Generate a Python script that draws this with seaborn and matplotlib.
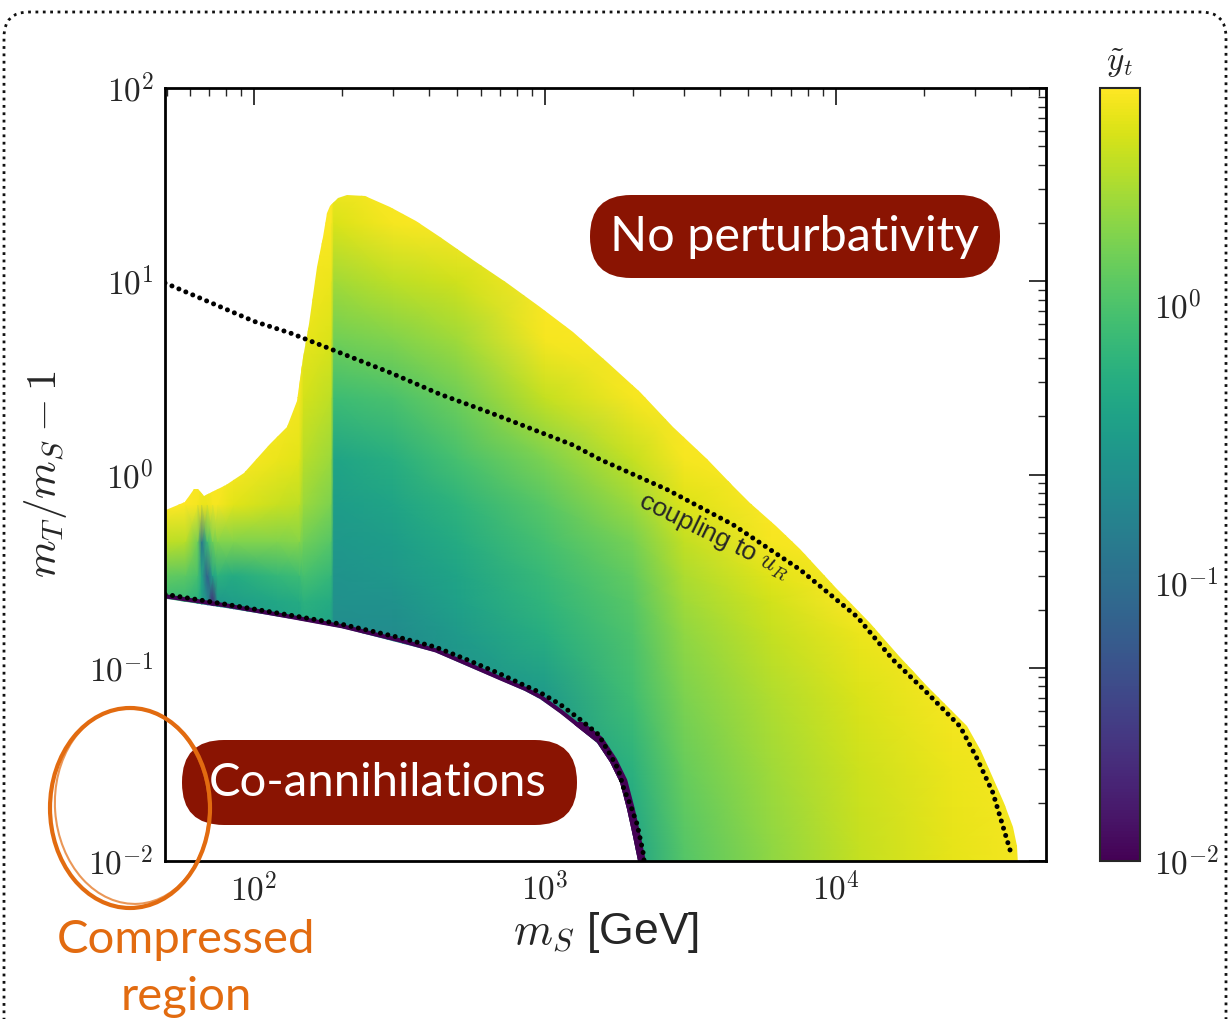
import numpy as np
import matplotlib
matplotlib.use("Agg")
import matplotlib.pyplot as plt
import seaborn as sns
from matplotlib.colors import LogNorm
from matplotlib.patches import Polygon, FancyBboxPatch, Ellipse
from matplotlib.ticker import FuncFormatter, NullFormatter
from matplotlib.transforms import IdentityTransform

# ---- values ----
# coarse grid of y_t values (one list per m_S column, rows follow ratio_grid)
ms_grid = [40, 58, 64, 66, 69, 72, 75, 85, 120, 143, 148, 184, 188, 300, 500,
           1000, 2000, 3000, 6000, 12000, 25000, 60000]
ratio_grid = [0.005, 0.012, 0.03, 0.07, 0.15, 0.22, 0.3, 0.45, 0.7, 1.2,
              2.5, 5, 10, 20, 40]
yt_columns = [
    [0.8, 0.8, 0.8, 0.8, 0.8, 0.8, 1.4, 3.5, 6, 6, 6, 6, 6, 6, 6],
    [0.7, 0.7, 0.7, 0.7, 0.7, 0.7, 1.2, 3.0, 6, 6, 6, 6, 6, 6, 6],
    [0.55, 0.55, 0.55, 0.55, 0.55, 0.55, 0.9, 1.5, 5.5, 6, 6, 6, 6, 6, 6],
    [0.4, 0.4, 0.4, 0.4, 0.4, 0.4, 0.45, 0.12, 5, 6, 6, 6, 6, 6, 6],
    [0.25, 0.25, 0.25, 0.25, 0.25, 0.25, 0.07, 0.8, 5, 6, 6, 6, 6, 6, 6],
    [0.02, 0.02, 0.02, 0.02, 0.02, 0.02, 0.4, 1.5, 5.5, 6, 6, 6, 6, 6, 6],
    [0.3, 0.3, 0.3, 0.3, 0.3, 0.3, 0.6, 1.8, 5.5, 6, 6, 6, 6, 6, 6],
    [0.3, 0.3, 0.3, 0.3, 0.3, 0.35, 0.5, 1.8, 4.5, 6, 6, 6, 6, 6, 6],
    [0.35, 0.35, 0.35, 0.35, 0.35, 0.45, 0.7, 1.8, 3.5, 5, 6, 6, 6, 6, 6],
    [0.4, 0.4, 0.4, 0.4, 0.4, 0.5, 0.8, 1.9, 3.2, 4.5, 5.5, 6, 6, 6, 6],
    [0.45, 0.45, 0.45, 0.45, 0.45, 0.6, 0.9, 1.5, 2.3, 3.0, 4.0, 4.8, 5.5, 6, 6],
    [0.4, 0.4, 0.4, 0.4, 0.4, 0.5, 0.7, 1.1, 1.7, 2.3, 3.2, 4.2, 5.0, 5.8, 6],
    [0.22, 0.22, 0.22, 0.22, 0.22, 0.25, 0.27, 0.3, 0.34, 0.42, 0.8, 1.5, 2.5, 4.2, 6],
    [0.2, 0.2, 0.2, 0.2, 0.22, 0.26, 0.3, 0.34, 0.42, 0.55, 0.95, 1.8, 3.2, 5.5, 6],
    [0.25, 0.25, 0.25, 0.25, 0.32, 0.38, 0.42, 0.5, 0.62, 0.9, 1.45, 2.4, 3.8, 6, 6],
    [0.3, 0.3, 0.3, 0.32, 0.55, 0.65, 0.75, 0.9, 1.15, 1.7, 3.4, 5.5, 6, 6, 6],
    [0.35, 0.42, 0.6, 0.85, 1.0, 1.15, 1.3, 1.6, 2.3, 3.4, 5.5, 6, 6, 6, 6],
    [1.0, 1.1, 1.35, 1.7, 2.1, 2.4, 2.7, 3.3, 4.3, 5.5, 6, 6, 6, 6, 6],
    [2.0, 2.1, 2.4, 2.8, 3.4, 3.9, 4.5, 5.5, 6, 6, 6, 6, 6, 6, 6],
    [3.3, 3.4, 3.7, 4.2, 5.0, 6, 6, 6, 6, 6, 6, 6, 6, 6, 6],
    [4.6, 4.7, 5.0, 5.6, 6, 6, 6, 6, 6, 6, 6, 6, 6, 6, 6],
    [6, 6, 6, 6, 6, 6, 6, 6, 6, 6, 6, 6, 6, 6, 6],
]

# edges of the allowed region
lower_edge_m = [35, 50, 80, 136, 200, 318, 420, 540, 700, 850, 961, 1127,
                1320, 1509, 1673, 1810, 1914, 2006, 2088, 2110]
lower_edge_r = [0.245, 0.228, 0.205, 0.178, 0.160, 0.135, 0.120, 0.102,
                0.086, 0.076, 0.069, 0.058, 0.048, 0.041, 0.0324, 0.0255,
                0.0185, 0.0134, 0.0100, 0.005]
upper_edge_m = [35, 48, 58, 62, 64, 67, 80, 92, 113, 130, 140, 147, 155, 165,
                172, 178, 183, 187, 195, 209, 240, 293, 360, 436, 566, 740, 961,
                1248, 1633, 2117, 2753, 3605, 4425, 5060, 6200, 7520, 10000,
                13100, 16500, 20500, 24500, 28200, 31500, 34700, 37800, 40500,
                41800, 42300, 42300]
upper_edge_r = [0.57, 0.64, 0.72, 0.84, 0.84, 0.77, 0.88, 1.02, 1.43, 1.77, 2.4,
                4.0, 6.0, 11.9, 17.0, 22.6, 24.5, 25.5, 27.0, 28.0, 27.5, 24.3,
                20.5, 17.0, 12.9, 9.84, 7.40, 5.43, 3.80, 2.66, 1.77, 1.20,
                0.867, 0.71, 0.54, 0.41, 0.26, 0.171, 0.115, 0.080, 0.062,
                0.050, 0.037, 0.027, 0.020, 0.015, 0.012, 0.0095, 0.005]

# dotted contours
coupling_m = [49.4, 100, 133, 293, 436, 647, 1248, 1546, 2625, 4425, 7520,
              11800, 15700, 20500, 26700, 30500, 34600, 40300]
coupling_r = [9.8, 6.2, 5.4, 3.37, 2.6, 2.09, 1.42, 1.196, 0.836, 0.55, 0.322,
              0.184, 0.110, 0.0745, 0.0497, 0.034, 0.0226, 0.0105]
coann_m = [49.4, 80, 136, 200, 318, 420, 540, 700, 850, 961, 1127, 1320, 1525,
           1673, 1785, 1860, 1962, 2072, 2170, 2190]
coann_r = [0.24, 0.213, 0.186, 0.168, 0.143, 0.128, 0.110, 0.093, 0.081,
           0.0745, 0.0646, 0.054, 0.0452, 0.0356, 0.0298, 0.024, 0.0196,
           0.0155, 0.0112, 0.0100]

# ---- style ----
sns.set_style("white")
plt.rcParams["font.family"] = ["Liberation Sans", "DejaVu Sans"]
plt.rcParams["mathtext.fontset"] = "cm"

W, H = 1230, 1019
fig = plt.figure(figsize=(W / 100, H / 100), dpi=100)
ax = fig.add_axes([165 / W, 1 - 861 / H, 881 / W, 773 / H])
cax = fig.add_axes([1100 / W, 1 - 861 / H, 40 / W, 773 / H])

ax.set_xscale("log")
ax.set_yscale("log")

cmap = sns.color_palette("viridis", as_cmap=True)
norm = LogNorm(vmin=0.01, vmax=6)

X, Y = np.meshgrid(ms_grid, ratio_grid)
C = np.array(yt_columns).T
mesh = ax.pcolormesh(X, Y, C, shading="gouraud", cmap=cmap, norm=norm)

region = Polygon(
    np.column_stack([lower_edge_m + upper_edge_m[::-1],
                     lower_edge_r + upper_edge_r[::-1]]),
    closed=True, transform=ax.transData)
mesh.set_clip_path(region)

# thin purple rim along the co-annihilation edge, wider where it turns down
purple = cmap(0.0)
rim, = ax.plot(lower_edge_m, lower_edge_r, color=purple, lw=6)
rim.set_clip_path(region)
rim2, = ax.plot(lower_edge_m[12:], lower_edge_r[12:], color=purple, lw=11)
rim2.set_clip_path(region)

dot_style = dict(color="black", linewidth=3.6, linestyle=(0, (0.01, 1.5)),
                 dash_capstyle="round", sort=False, estimator=None, zorder=5)
sns.lineplot(x=coupling_m, y=coupling_r, ax=ax, **dot_style)
sns.lineplot(x=coann_m, y=coann_r, ax=ax, **dot_style)

ax.set_xlim(49.4, 52700)
ax.set_ylim(0.01, 100)

pow_fmt = FuncFormatter(lambda v, p: r"$10^{%d}$" % round(np.log10(v)))
ax.xaxis.set_major_formatter(pow_fmt)
ax.yaxis.set_major_formatter(pow_fmt)
ax.xaxis.set_minor_formatter(NullFormatter())
ax.yaxis.set_minor_formatter(NullFormatter())
ax.tick_params(which="major", direction="in", length=12, width=1.3,
               top=True, right=True, labelsize=24, pad=8)
ax.tick_params(which="minor", direction="in", length=6, width=1.0,
               top=True, right=True)
for s in ax.spines.values():
    s.set_linewidth(2)
    s.set_color("black")

ax.set_xlabel(r"$m_S$ [GeV]", fontsize=32, labelpad=2)
ax.set_ylabel(r"$m_T/m_S - 1$", fontsize=31, labelpad=14)

ax.text(0.624, 0.42, r"coupling to $u_R$", transform=ax.transAxes,
        rotation=-26, rotation_mode="anchor", ha="center", va="center",
        fontsize=19)

cb = fig.colorbar(mesh, cax=cax)
cb.outline.set_linewidth(1.5)
cax.yaxis.set_major_formatter(pow_fmt)
cax.yaxis.set_minor_formatter(NullFormatter())
cax.tick_params(which="both", direction="in", length=8, width=1.2,
                labelsize=24, pad=10)
cax.set_title(r"$\tilde{y}_t$", fontsize=24, pad=12)

# ---- annotations ----
pix = IdentityTransform()
red = "#8A1402"
orange = "#E26B10"

fig.add_artist(FancyBboxPatch((590, H - 278), 410, 83,
                              boxstyle="round,pad=0,rounding_size=41",
                              transform=pix, facecolor=red, edgecolor="none"))
fig.text(795, H - 237, "No perturbativity", transform=pix, ha="center",
         va="center", color="white", fontsize=35, family="Lato")

fig.add_artist(FancyBboxPatch((182, H - 825), 395, 85,
                              boxstyle="round,pad=0,rounding_size=42",
                              transform=pix, facecolor=red, edgecolor="none"))
fig.text(378, H - 783, "Co-annihilations", transform=pix, ha="center",
         va="center", color="white", fontsize=34, family="Lato")

fig.add_artist(Ellipse((130, H - 808), 160, 200, transform=pix, fill=False,
                       edgecolor=orange, lw=3))
fig.add_artist(Ellipse((132, H - 806), 154, 196, angle=4, transform=pix,
                       fill=False, edgecolor=orange, lw=1.5, alpha=0.7))
fig.text(186, H - 940, "Compressed", transform=pix, ha="center", va="center",
         color=orange, fontsize=34, family="Lato")
fig.text(186, H - 997, "region", transform=pix, ha="center", va="center",
         color=orange, fontsize=34, family="Lato")

fig.add_artist(FancyBboxPatch((4, -40), 1222, 1047,
                              boxstyle="round,pad=0,rounding_size=25",
                              transform=pix, fill=False, linestyle=":",
                              lw=2, edgecolor="#111111"))

fig.savefig("out.png", dpi=100)
